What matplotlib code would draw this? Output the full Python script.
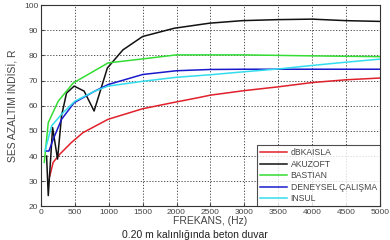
import matplotlib.pyplot as plt

plt.rcParams['font.family'] = ['Liberation Sans', 'DejaVu Sans']

# veri
f_red = [130, 180, 280, 450, 620, 990, 1500, 1940, 2340, 2500, 3000, 3500, 4000, 4500, 5000]
r_red = [32, 37.5, 40.8, 45.4, 49.3, 54.6, 58.8, 61.2, 63.3, 64.2, 66, 67.5, 69.2, 70.3, 71]

f_black = [83, 108, 172, 245, 304, 377, 490, 637, 784, 980, 1210, 1500, 1970, 2490, 2970, 3490, 4000, 4500, 5000]
r_black = [40, 24.3, 51.3, 38.8, 56, 65, 67.8, 65.8, 57.9, 75, 82.2, 87.5, 90.8, 92.8, 93.8, 94.2, 94.4, 93.8, 93.5]

f_green = [49, 108, 255, 475, 990, 1500, 2000, 3000, 4000, 5000]
r_green = [37.5, 53.3, 61.8, 69, 77, 78.6, 80.2, 80.2, 79.8, 79.5]

f_blue = [83, 118, 181, 304, 490, 794, 990, 1500, 2000, 2500, 3000, 4000, 5000]
r_blue = [42, 42, 46.7, 54.6, 61.2, 65.8, 68.4, 72.4, 73.9, 74.4, 74.5, 74.5, 74.5]

f_cyan = [59, 157, 304, 500, 794, 990, 1500, 2000, 2500, 3000, 3500, 4000, 4500, 5000]
r_cyan = [42, 52, 56.6, 61.8, 65.8, 67.8, 69.7, 71.3, 72.3, 73.5, 74.6, 76, 77.3, 78.5]

labels = ['dBKAISLA', 'AKUZOFT', 'BASTIAN', 'DENEYSEL ÇALIŞMA', 'INSUL']
colors = ['#e0202a', '#111111', '#33dd33', '#1a1acc', '#33ddee']

fig = plt.figure(figsize=(3.9, 2.4), dpi=100)
ax = fig.add_axes([0.105, 0.14, 0.869, 0.839])

series = [(f_red, r_red), (f_black, r_black), (f_green, r_green), (f_blue, r_blue), (f_cyan, r_cyan)]
for (f, r), lab, c in zip(series, labels, colors):
    ax.plot(f, r, color=c, lw=1.1, label=lab)

ax.set_xlim(0, 5000)
ax.set_ylim(20, 100)
ax.set_xticks(range(0, 5001, 500))
ax.set_yticks(range(20, 101, 10))
ax.grid(True, color='#333333', linestyle=(0, (1.5, 2)), linewidth=0.6)
ax.tick_params(labelsize=6, colors='#444444', length=2, direction='in', pad=2)
for s in ax.spines.values():
    s.set_color('#333333')
    s.set_linewidth(0.8)

ax.set_xlabel('FREKANS, (Hz)', fontsize=7.5, color='#444444', labelpad=0)
ax.set_ylabel('SES AZALTIM İNDİSİ, R', fontsize=7.5, color='#444444', labelpad=4)

leg = ax.legend(loc='lower right', fontsize=6.2, handlelength=3.2, borderaxespad=0,
                frameon=True, fancybox=False, labelspacing=0.3, borderpad=0.35,
                handletextpad=0.4)
leg.get_frame().set_edgecolor('#222222')
leg.get_frame().set_linewidth(0.8)
for t in leg.get_texts():
    t.set_color('#444444')

fig.text(0.5, 0.002, '0.20 m kalınlığında beton duvar', ha='center', va='bottom',
         fontsize=7.5, color='#222222')

fig.savefig('out.png', dpi=100)
